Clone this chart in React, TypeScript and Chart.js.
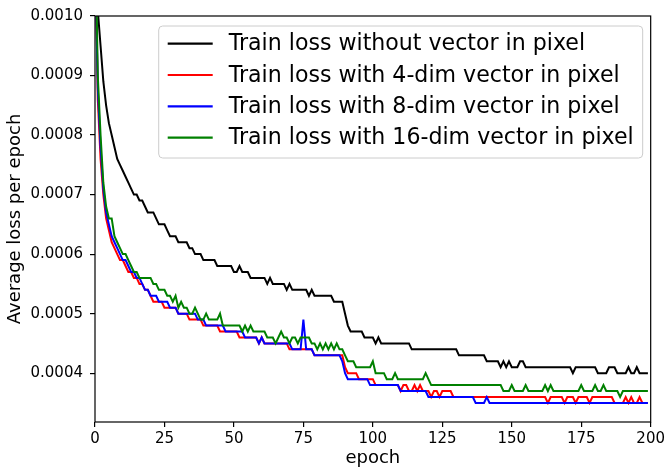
import React, { useEffect, useRef } from "react";
import { Chart, registerables } from "chart.js";

Chart.register(...registerables);

const FONT = '"DejaVu Sans", sans-serif';

// epoch index of each point
const epochs: number[] = Array.from({ length: 200 }, (_, i) => i);

// loss values, in units of 1e-5
const lossNoVectorE5 = [
  120, 101, 95, 89, 85, 82, 80, 78, 76, 75,
  74, 73, 72, 71, 70, 70, 69, 69, 68, 67,
  67, 67, 66, 65, 65, 65, 64, 63, 63, 63,
  62, 62, 62, 62, 61, 61, 60, 60, 60, 59,
  59, 59, 59, 59, 58, 58, 58, 58, 58, 58,
  57, 57, 58, 57, 57, 57, 56, 56, 56, 56,
  56, 56, 55, 56, 55, 55, 55, 55, 55, 54,
  55, 54, 54, 54, 54, 54, 54, 53, 54, 53,
  53, 53, 53, 53, 53, 53, 52, 52, 52, 52,
  50, 48, 47, 47, 47, 47, 47, 46, 46, 46,
  46, 45, 46, 45, 45, 45, 45, 45, 45, 45,
  45, 45, 45, 45, 44, 44, 44, 44, 44, 44,
  44, 44, 44, 44, 44, 44, 44, 44, 44, 44,
  44, 43, 43, 43, 43, 43, 43, 43, 43, 43,
  43, 42, 42, 42, 42, 42, 41, 42, 41, 42,
  41, 41, 41, 42, 42, 41, 41, 41, 41, 41,
  41, 41, 41, 41, 41, 41, 41, 41, 41, 41,
  41, 41, 40, 41, 41, 41, 41, 41, 41, 41,
  41, 40, 40, 40, 40, 41, 41, 41, 40, 40,
  40, 40, 41, 40, 40, 41, 40, 40, 40, 40,
];

const loss4DimE5 = [
  115, 86, 76, 70, 66, 64, 62, 61, 60, 59,
  59, 58, 57, 57, 56, 56, 55, 55, 54, 54,
  53, 52, 52, 52, 52, 51, 51, 51, 51, 51,
  50, 50, 50, 50, 49, 49, 49, 49, 49, 48,
  48, 48, 48, 48, 48, 47, 47, 47, 47, 47,
  47, 47, 46, 46, 46, 46, 46, 46, 46, 45,
  46, 45, 45, 45, 45, 45, 45, 45, 45, 45,
  44, 44, 44, 44, 44, 44, 44, 44, 44, 43,
  43, 43, 43, 43, 43, 43, 43, 43, 43, 43,
  41, 40, 40, 40, 40, 39, 39, 39, 39, 39,
  39, 38, 38, 38, 38, 38, 38, 38, 38, 38,
  37, 38, 38, 37, 37, 38, 37, 38, 37, 37,
  37, 36, 37, 37, 36, 37, 37, 37, 37, 36,
  36, 36, 36, 36, 36, 36, 36, 36, 36, 36,
  36, 36, 36, 36, 36, 36, 36, 36, 36, 36,
  36, 36, 36, 36, 36, 36, 36, 36, 36, 36,
  36, 36, 36, 35, 36, 36, 36, 36, 36, 35,
  36, 36, 36, 35, 36, 36, 36, 36, 35, 36,
  36, 36, 36, 36, 36, 36, 36, 35, 35, 35,
  35, 36, 35, 36, 35, 35, 36, 35, 35, 35,
];

const loss8DimE5 = [
  112, 88, 78, 71, 67, 65, 63, 62, 61, 60,
  59, 59, 58, 57, 57, 56, 56, 55, 54, 54,
  53, 53, 53, 52, 52, 52, 52, 51, 51, 51,
  50, 50, 50, 50, 50, 50, 50, 49, 49, 49,
  48, 48, 48, 48, 48, 48, 48, 47, 47, 47,
  47, 47, 47, 47, 46, 46, 46, 46, 46, 45,
  46, 45, 45, 45, 45, 45, 45, 45, 45, 45,
  45, 44, 44, 44, 44, 49, 44, 44, 44, 43,
  43, 43, 43, 43, 43, 43, 43, 43, 43, 42,
  40, 39, 39, 39, 39, 39, 39, 39, 39, 38,
  38, 38, 38, 38, 38, 38, 38, 38, 38, 38,
  37, 37, 37, 37, 37, 37, 37, 37, 37, 37,
  36, 36, 36, 36, 36, 36, 36, 36, 36, 36,
  36, 36, 36, 36, 36, 36, 36, 35, 35, 35,
  35, 36, 35, 35, 35, 35, 35, 35, 35, 35,
  35, 35, 35, 35, 35, 35, 35, 35, 35, 35,
  35, 35, 35, 35, 35, 35, 35, 35, 35, 35,
  35, 35, 35, 35, 35, 35, 35, 35, 35, 35,
  35, 35, 35, 35, 35, 35, 35, 35, 35, 35,
  35, 35, 35, 35, 35, 35, 35, 35, 35, 35,
];

const loss16DimE5 = [
  118, 90, 80, 72, 68, 66, 66, 63, 62, 61,
  60, 60, 59, 58, 57, 57, 56, 56, 56, 56,
  56, 55, 55, 54, 54, 54, 53, 53, 52, 53,
  51, 52, 51, 51, 50, 50, 51, 50, 49, 49,
  50, 49, 49, 49, 49, 50, 48, 48, 48, 48,
  48, 48, 48, 47, 48, 47, 48, 47, 47, 47,
  47, 47, 46, 46, 46, 45, 46, 47, 46, 46,
  45, 46, 46, 45, 46, 46, 46, 46, 45, 45,
  44, 45, 44, 45, 44, 45, 44, 45, 44, 44,
  43, 42, 42, 42, 41, 41, 41, 41, 41, 41,
  42, 40, 40, 40, 40, 39, 39, 39, 40, 39,
  39, 39, 39, 39, 39, 39, 39, 39, 39, 40,
  39, 38, 38, 38, 38, 38, 38, 38, 38, 38,
  38, 38, 38, 38, 38, 38, 38, 38, 38, 38,
  38, 38, 38, 38, 38, 38, 38, 37, 37, 37,
  38, 37, 37, 37, 37, 38, 37, 37, 37, 37,
  37, 37, 38, 37, 38, 37, 37, 37, 37, 37,
  37, 37, 37, 37, 37, 38, 37, 37, 37, 37,
  38, 37, 37, 38, 37, 37, 37, 37, 37, 36,
  37, 37, 37, 37, 37, 37, 37, 37, 37, 37,
];

const seriesLabels = [
  "Train loss without vector in pixel",
  "Train loss with 4-dim vector in pixel",
  "Train loss with 8-dim vector in pixel",
  "Train loss with 16-dim vector in pixel",
];
const seriesColors = ["#000000", "#ff0000", "#0000ff", "#008000"];

const yTickValues = [0.0004, 0.0005, 0.0006, 0.0007, 0.0008, 0.0009, 0.001];
const xTickValues = [0, 25, 50, 75, 100, 125, 150, 175, 200];

const frameAndLegend = {
  id: "frameAndLegend",
  afterDatasetsDraw(chart: any) {
    const { ctx, chartArea: ca } = chart;
    ctx.save();
    ctx.strokeStyle = "#000";
    ctx.lineWidth = 1.2;
    ctx.strokeRect(ca.left, ca.top, ca.right - ca.left, ca.bottom - ca.top);

    ctx.font = `22.1px ${FONT}`;
    const ds = chart.data.datasets;
    let maxW = 0;
    ds.forEach((d: any) => {
      maxW = Math.max(maxW, ctx.measureText(d.label).width);
    });
    const pad = 9;
    const lineLen = 45;
    const gap = 16;
    const w = pad + lineLen + gap + maxW + pad;
    const h = 132;
    const right = ca.right - 8;
    const left = right - w;
    const top = ca.top + 10;
    const r = 4;
    ctx.beginPath();
    ctx.moveTo(left + r, top);
    ctx.lineTo(left + w - r, top);
    ctx.quadraticCurveTo(left + w, top, left + w, top + r);
    ctx.lineTo(left + w, top + h - r);
    ctx.quadraticCurveTo(left + w, top + h, left + w - r, top + h);
    ctx.lineTo(left + r, top + h);
    ctx.quadraticCurveTo(left, top + h, left, top + h - r);
    ctx.lineTo(left, top + r);
    ctx.quadraticCurveTo(left, top, left + r, top);
    ctx.closePath();
    ctx.fillStyle = "rgba(255,255,255,0.8)";
    ctx.fill();
    ctx.strokeStyle = "#cccccc";
    ctx.lineWidth = 1;
    ctx.stroke();

    ds.forEach((d: any, i: number) => {
      const y = top + 17.7 + i * 31.3;
      ctx.beginPath();
      ctx.strokeStyle = d.borderColor;
      ctx.lineWidth = 2.2;
      ctx.moveTo(left + pad, y);
      ctx.lineTo(left + pad + lineLen, y);
      ctx.stroke();
      ctx.fillStyle = "#000";
      ctx.textBaseline = "middle";
      ctx.textAlign = "left";
      ctx.fillText(d.label, left + pad + lineLen + gap, y + 1);
    });
    ctx.restore();
  },
};

export default function App() {
  const canvasRef = useRef<HTMLCanvasElement | null>(null);

  useEffect(() => {
    if (!canvasRef.current) return;
    const series = [lossNoVectorE5, loss4DimE5, loss8DimE5, loss16DimE5];
    const chart = new Chart(canvasRef.current, {
      type: "line",
      data: {
        datasets: series.map((vals, k) => ({
          label: seriesLabels[k],
          data: vals.map((v, i) => ({ x: epochs[i], y: v / 100000 })),
          borderColor: seriesColors[k],
          backgroundColor: seriesColors[k],
          borderWidth: 2,
          pointRadius: 0,
          tension: 0,
          fill: false,
          order: 4 - k,
        })),
      },
      options: {
        animation: false,
        responsive: false,
        devicePixelRatio: 1,
        events: [],
        layout: { padding: { left: 0, right: 17, top: 14, bottom: 0 } },
        plugins: {
          legend: { display: false },
          tooltip: { enabled: false },
          title: { display: false },
        },
        scales: {
          x: {
            type: "linear",
            min: 0,
            max: 200,
            afterFit: (s: any) => {
              s.height = 45;
            },
            afterBuildTicks: (s: any) => {
              s.ticks = xTickValues.map((v) => ({ value: v }));
            },
            border: { display: false },
            grid: {
              display: true,
              drawOnChartArea: false,
              drawTicks: true,
              tickLength: 5,
              color: "#000",
              lineWidth: 1.2,
            },
            ticks: {
              autoSkip: false,
              maxRotation: 0,
              padding: 3,
              color: "#000",
              font: { family: FONT, size: 15 },
              callback: (v: any) => String(v),
            },
            title: {
              display: true,
              text: "epoch",
              color: "#000",
              font: { family: FONT, size: 18, lineHeight: 1 },
              padding: { top: 0, bottom: 0 },
            },
          },
          y: {
            type: "linear",
            min: 0.000318,
            max: 0.001,
            afterFit: (s: any) => {
              s.width = 95;
            },
            afterBuildTicks: (s: any) => {
              s.ticks = yTickValues.map((v) => ({ value: v }));
            },
            border: { display: false },
            grid: {
              display: true,
              drawOnChartArea: false,
              drawTicks: true,
              tickLength: 5,
              color: "#000",
              lineWidth: 1.2,
            },
            ticks: {
              autoSkip: false,
              padding: 7,
              color: "#000",
              font: { family: FONT, size: 15 },
              callback: (v: any) => Number(v).toFixed(4),
            },
            title: {
              display: true,
              text: "Average loss per epoch",
              color: "#000",
              font: { family: FONT, size: 18, lineHeight: 1 },
              padding: { top: 6, bottom: 0 },
            },
          },
        },
      },
      plugins: [frameAndLegend],
    });
    return () => chart.destroy();
  }, []);

  return (
    <div style={{ position: "absolute", left: 0, top: 0, width: 668, height: 467, background: "#fff" }}>
      <canvas ref={canvasRef} width={668} height={467} style={{ width: 668, height: 467, display: "block" }} />
    </div>
  );
}
